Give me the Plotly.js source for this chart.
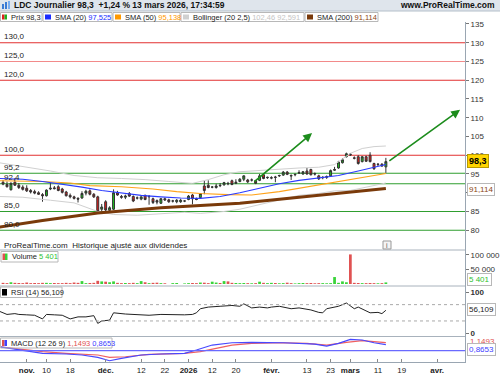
<!DOCTYPE html>
<html><head><meta charset="utf-8">
<script src="https://cdn.plot.ly/plotly-3.0.1.min.js"></script>
<style>html,body{margin:0;padding:0;background:#fff}#chart{width:500px;height:375px}</style>
</head><body><div id="chart"></div>
<script>
// ================= DATA =================
const startDate = '2025-10-24';
const holidays = ['2025-12-25','2025-12-26','2026-01-01','2026-04-03','2026-04-06'];

const open  = [92.8,92.2,90.8,92.8,92.0,91.5,91.2,90.6,90.3,90.0,89.5,89.2,91.0,91.3,91.6,91.0,90.2,89.3,88.9,88.5,
  88.6,89.9,90.5,89.6,88.9,85.6,87.6,85.3,85.6,90.1,89.0,88.8,89.8,89.0,88.6,88.3,89.3,88.9,88.4,87.9,
  87.2,88.4,88.1,87.8,87.6,87.6,87.8,88.2,89.4,88.4,88.7,91.8,92.0,91.5,91.4,92.0,92.1,92.5,93.2,92.5,
  93.0,93.6,93.4,93.4,93.2,93.3,94.8,94.0,93.9,94.2,94.5,94.7,95.5,94.6,94.8,95.2,95.0,95.8,96.2,95.1,
  94.5,94.0,94.1,94.5,96.0,96.6,98.0,99.6,100.3,99.3,99.6,98.3,99.6,100.0,97.8,97.5,97.6,96.9];
const high  = [93.4,93.0,92.8,93.9,92.6,92.0,92.0,91.0,90.8,90.4,89.9,90.9,92.7,91.8,92.0,91.3,90.5,89.8,89.2,88.8,
  90.4,90.8,90.9,89.9,89.2,87.0,88.0,86.4,90.9,90.5,89.4,89.5,90.2,89.3,89.0,89.0,89.5,89.4,88.7,88.2,
  88.6,88.7,88.4,88.1,88.3,88.4,88.0,89.4,89.7,88.7,89.9,93.2,93.3,91.8,92.4,92.6,92.9,92.9,93.5,93.6,
  93.9,94.6,93.7,93.8,93.4,95.0,95.2,94.3,94.4,94.5,94.8,95.8,95.8,94.9,95.1,96.0,95.8,96.6,96.4,95.4,
  94.8,94.4,94.6,96.2,96.9,98.5,99.2,100.7,100.6,99.7,100.0,99.8,99.9,100.8,98.0,97.9,97.9,99.3];
const low   = [92.0,91.4,90.6,91.8,91.0,90.6,90.2,89.8,89.6,89.4,87.6,89.0,90.7,90.9,90.4,89.8,89.0,88.5,88.2,87.4,
  88.4,89.3,89.3,88.6,84.6,84.6,84.8,84.8,85.4,89.2,88.4,88.3,88.9,87.5,88.2,88.0,88.0,86.8,87.0,86.9,
  87.0,87.8,87.3,87.4,87.2,87.3,87.5,88.0,86.9,88.0,88.4,89.6,91.2,91.2,91.1,91.5,91.9,92.0,92.0,92.3,
  92.8,93.1,92.6,93.0,92.3,93.1,93.6,93.7,93.6,92.8,94.2,94.5,94.7,93.4,94.4,95.0,94.8,94.8,94.6,94.6,
  93.4,93.6,93.7,94.4,95.8,96.4,97.8,99.4,99.8,98.9,97.5,98.1,98.2,98.1,96.1,97.1,97.0,95.3];
const close = [92.3,91.6,92.5,92.0,91.4,90.9,90.5,90.2,89.9,89.6,89.2,90.7,91.2,91.1,90.6,90.1,89.2,88.9,88.5,88.3,
  89.8,90.4,89.6,88.9,85.0,86.2,85.4,86.0,90.0,89.4,88.8,89.1,89.1,87.8,88.6,88.9,88.2,89.0,87.4,87.5,
  88.4,88.1,87.6,87.8,88.0,88.0,87.8,89.1,88.4,88.2,89.8,90.6,91.4,91.5,91.8,91.9,92.7,92.4,92.2,92.8,
  93.6,94.5,92.9,93.4,92.5,94.5,93.8,94.1,94.0,94.1,94.6,95.5,94.9,94.5,94.9,95.4,95.6,95.0,94.8,95.0,
  93.7,94.1,94.3,95.9,96.2,98.2,98.8,100.4,100.1,99.2,97.8,99.6,98.4,98.3,96.4,97.6,97.1,98.3];
const volume = [4000,3000,6000,4000,3500,3000,5000,3000,3500,3000,4000,4000,3000,3500,3000,3000,4000,3000,5000,4000,
  10000,3000,3500,4000,11000,9000,8000,6000,9000,4000,3000,3500,3000,4000,3000,10000,6000,3000,4000,4500,
  3000,2500,0,3000,3500,0,2000,3000,3500,3000,5000,4500,3000,8000,5000,3500,10000,9000,4000,3500,
  3000,3500,3000,2500,3000,8000,4000,3000,4000,3500,2500,3000,4500,3000,2000,3000,3500,3000,3500,2500,
  3000,3000,2500,3000,24000,4000,9000,6000,102000,4000,3500,3000,3000,3500,3000,2500,3000,5401];

// indicator readings (trading-day index from startDate, value)
const sma20X = [-1,5,10,15,20,25,30,35,40,45,50,55,60,65,70,75,80,85,90,94,97];
const sma20  = [93.8,93.6,93.0,92.3,91.5,90.6,89.9,89.3,88.9,88.6,88.5,89.0,90.0,91.2,92.4,93.3,94.0,94.6,95.8,96.8,97.525];
const sma50X = [-1,10,17,22,30,38,44,50,57,63,70,77,85,91,97];
const sma50  = [93.2,93.0,92.6,91.9,91.6,91.0,90.3,89.8,89.5,89.4,90.3,91.6,93.1,94.2,95.138];
const sma200X = [-1,10,24,40,60,80,97];
const sma200  = [80.8,82.6,84.6,86.0,87.2,89.3,91.114];
const bbUpX = [-1,5,12,18,24,30,36,42,48,52,56,60,65,70,75,80,84,88,91,94,97];
const bbUp  = [98.0,97.0,95.8,94.6,94.0,93.8,93.5,93.0,92.5,93.5,94.8,95.6,96.0,96.3,96.6,96.8,97.5,100.5,101.8,102.3,102.46];
const bbLoX = [-1,5,12,18,24,28,34,40,46,50,56,60,65,70,75,80,84,88,91,94,97];
const bbLo  = [89.0,88.8,88.0,87.3,85.0,84.2,84.0,84.3,84.8,84.5,85.0,85.6,86.8,88.0,89.3,89.8,90.5,90.6,91.2,92.0,92.591];
const rsiX = [-1,1,3,4,6,8,10,11,13,15,17,19,21,23,24,25,27,28,31,35,37,40,43,46,48,49,50,52,55,58,60,61,63,65,67,68,70,73,75,78,80,81,82,85,87,89,90,92,93,95,96,97];
const rsi  = [54,46,48,46,45,44,35,46,45,44,35,40,40,43,24,30,32,50,47,46,44,46,45,45,46,50,60,64,66,68,66,72,62,64,62,64,66,60,62,57,51,50,60,66,74,60,64,54,50,51,48,56.109];
const macdX = [-1,4,10,16,20,24,27,30,35,40,46,49,53,58,63,71,75,79,82,85,88,91,94,97];
const macd  = [0.57,0.1,-0.37,-0.47,-0.61,-0.95,-1.43,-1.09,-0.61,-0.47,-0.37,0.1,0.81,1.14,1.19,1.14,1.05,0.95,0.67,1.05,1.62,1.53,1.14,0.8653];
const sigX  = [-1,4,10,16,24,27,31,37,46,50,54,58,63,71,77,82,87,91,97];
const sig   = [0.57,0.2,-0.14,-0.37,-0.61,-0.95,-0.86,-0.52,-0.37,-0.14,0.33,0.81,1.05,1.14,1.05,0.81,1.19,1.43,1.1493];

const tickDates = ['2025-11-03','2025-11-10','2025-11-18','2025-12-01','2025-12-12','2025-12-22','2026-01-02','2026-01-12','2026-01-20','2026-02-02','2026-02-13','2026-02-23','2026-03-02','2026-03-11','2026-03-19','2026-04-01'];
const tickText  = ['<b>nov.</b>','10','18','<b>déc.</b>','12','22','<b>2026</b>','12','20','<b>févr.</b>','13','23','<b>mars</b>','11','19','<b>avr.</b>'];
const priceTicks = [80,85,90,95,100,105,110,115,120,125,130,135];
const redLevels = [130,125,120,100];
const redLabels = ['130,0','125,0','120,0','100,0'];
const greenLevels = [95.2,92.4,85,80];
const greenLabels = ['95,2','92,4','85,0','80,0'];
// trend arrows: [tailIndex, tailPrice, headIndex, headPrice]
const arrows = [[63.3,92.6,78.3,105.9],[97.5,98.2,115.8,112.1]];

// ================= BUILD =================
function tradingDays(start, n){
  const out=[]; const d=new Date(start+'T12:00:00Z');
  while(out.length<n){
    const iso=d.toISOString().slice(0,10), wd=d.getUTCDay();
    if(wd!==0 && wd!==6 && !holidays.includes(iso)) out.push(iso);
    d.setUTCDate(d.getUTCDate()+1);
  }
  return out;
}
const days = tradingDays(startDate, 140);
const xi = close.map((_,j)=>j);
const tickVals = tickDates.map(d=>days.indexOf(d));

const W=465, TOP=22, BOT=362, H=BOT-TOP;
const px = x => x/W, py = y => (BOT-y)/H;
const FONT = 'Liberation Sans, Arial, sans-serif';
const GREEN='#1fbf1f', RED='#e51c1c';

const traces = [
  {x:bbUpX,y:bbUp,type:'scatter',mode:'lines',line:{color:'#d0d0d0',width:1},hoverinfo:'skip'},
  {x:bbLoX,y:bbLo,type:'scatter',mode:'lines',line:{color:'#d0d0d0',width:1},hoverinfo:'skip'},
  {x:sma200X,y:sma200,type:'scatter',mode:'lines',line:{color:'#7a3a0a',width:3},hoverinfo:'skip'},
  {x:sma50X,y:sma50,type:'scatter',mode:'lines',line:{color:'#ffa31a',width:1.2},hoverinfo:'skip'},
  {x:sma20X,y:sma20,type:'scatter',mode:'lines',line:{color:'#2b3cff',width:1.2},hoverinfo:'skip'},
  {x:xi,open:open,high:high,low:low,close:close,type:'candlestick',
   increasing:{line:{color:'#333',width:1},fillcolor:GREEN},
   decreasing:{line:{color:'#333',width:1},fillcolor:RED},hoverinfo:'skip'},
  {x:xi,y:volume,type:'bar',yaxis:'y2',
   marker:{color:close.map((c,j)=>c>=open[j]?'#3ad43a':'#e05252'),line:{width:0}},hoverinfo:'skip'},
  {x:rsiX,y:rsi,type:'scatter',mode:'lines',yaxis:'y3',line:{color:'#222',width:1},hoverinfo:'skip'},
  {x:sigX,y:sig,type:'scatter',mode:'lines',yaxis:'y4',line:{color:'#f06060',width:1.2},hoverinfo:'skip'},
  {x:macdX,y:macd,type:'scatter',mode:'lines',yaxis:'y4',line:{color:'#4848ff',width:1.2},hoverinfo:'skip'}
];

const axisCommon = {showgrid:false,zeroline:false,fixedrange:true,showline:true,linecolor:'#9aa6b2',
  side:'right',ticks:'outside',ticklen:3,tickcolor:'#777',tickfont:{family:FONT,size:8,color:'#333'}};

const shapes = [
  {type:'rect',xref:'paper',yref:'paper',x0:0,x1:500/W,y0:py(11),y1:py(0),fillcolor:'#dfe5ec',line:{width:0},layer:'below'},
  {type:'line',xref:'paper',yref:'paper',x0:0,x1:500/W,y0:py(11),y1:py(11),line:{color:'#b4bfca',width:1}},
  {type:'line',xref:'paper',yref:'paper',x0:0,x1:1,y0:py(250),y1:py(250),line:{color:'#a8b2bc',width:1}},
  {type:'line',xref:'paper',yref:'paper',x0:0,x1:1,y0:py(286),y1:py(286),line:{color:'#a8b2bc',width:1}},
  {type:'line',xref:'paper',yref:'paper',x0:0,x1:1,y0:py(336.5),y1:py(336.5),line:{color:'#a8b2bc',width:1}},
  {type:'line',xref:'paper',yref:'y3',x0:0,x1:1,y0:70,y1:70,line:{color:'#aaa',width:1,dash:'dot'}},
  {type:'line',xref:'paper',yref:'y3',x0:0,x1:1,y0:30,y1:30,line:{color:'#aaa',width:1,dash:'dot'}},
  {type:'line',xref:'paper',yref:'y4',x0:0,x1:1,y0:0,y1:0,line:{color:'#6a6aff',width:1.2}},
  {type:'rect',xref:'paper',yref:'paper',x0:px(383),x1:px(391),y0:py(249),y1:py(241),line:{color:'#999',width:1},fillcolor:'#f4f4f4'}
];
redLevels.forEach((v,j)=>shapes.push({type:'line',xref:'paper',yref:'y',x0:0,x1:1,y0:v,y1:v,
  line:{color:v===125?'#f28a8a':'#e23030',width:1.2},layer:'below'}));
greenLevels.forEach(v=>shapes.push({type:'line',xref:'paper',yref:'y',x0:0,x1:1,y0:v,y1:v,
  line:{color:'#2f9e2f',width:1.2},layer:'below'}));

const f8 = {family:FONT,size:8,color:'#222'};
const fL = {family:FONT,size:7.5,color:'#222'};
const ann = [];
function label(text,x,y,opts){ann.push(Object.assign({xref:'paper',yref:'paper',x:px(x),y:py(y),text:text,
  showarrow:false,xanchor:'left',yanchor:'middle',font:f8},opts||{}));}
function box(text,x,y,opts){label(text,x,y,Object.assign({bordercolor:'#b8b8b8',borderwidth:1,borderpad:1,bgcolor:'#fff'},opts||{}));}
function rect(x0,x1,y0,y1,fill,line){shapes.push({type:'rect',xref:'paper',yref:'paper',x0:px(x0),x1:px(x1),y0:py(y1),y1:py(y0),
  fillcolor:fill,line:line?{color:line,width:1}:{width:0}});}
// legend box: frame, icons [[x0,x1,color]], text starting at tx
function legend(x0,x1,y0,y1,icons,text,tx){
  rect(x0,x1,y0,y1,'rgba(0,0,0,0)','#b8b8b8');
  icons.forEach(ic=>rect(ic[0],ic[1],y0+2,y1-2,ic[2]));
  label(text,tx,(y0+y1)/2,{font:fL});
}

label('<b>LDC Journalier 98,3  +1,24 % 13 mars 2026, 17:34:59</b>',12,5.5,{font:{family:FONT,size:8.5,color:'#111'}});
rect(2,4,4,9,'#3a7bd5'); rect(5,7,2,9,'#3a7bd5'); rect(8,10,1,9,'#7aaef0');
label('<b>www.ProRealTime.com</b>',497,5.5,{xanchor:'right',font:{family:FONT,size:8.5,color:'#111'}});

legend(0.5,42,12.5,21.5,[[2,4.5,'#e02020'],[4.5,7,'#20b020']],'Prix 98,3',8.5);
legend(43,112,12.5,21.5,[[45,51,'#1a2cff']],'SMA (20) <span style="color:#2030ff">97,525</span>',52.5);
legend(113,180,12.5,21.5,[[115,121,'#ff9900']],'SMA (50) <span style="color:#ff9900">95,138</span>',122.5);
legend(181,304,12.5,21.5,[[183,189,'#d0d0d0']],'Bollinger (20 2,5) <span style="color:#c4c4c4">102,46 92,591</span>',190.5);
legend(305,378,12.5,21.5,[[307,313,'#7a3a0a']],'SMA (200) <span style="color:#8b4513">91,114</span>',314.5);

redLevels.forEach((v,j)=>ann.push({xref:'paper',yref:'y',x:px(2),y:v,yshift:6,text:redLabels[j],showarrow:false,xanchor:'left',yanchor:'middle',font:f8}));
greenLevels.forEach((v,j)=>ann.push({xref:'paper',yref:'y',x:px(2),y:v,yshift:6,text:greenLabels[j],showarrow:false,xanchor:'left',yanchor:'middle',font:f8}));

label('ProRealTime.com  Historique ajusté aux dividendes',2,245.5);
label('i',387,245,{xanchor:'center',font:{family:FONT,size:7,color:'#555'}});

box('<b>98,3</b>',467,161,{bgcolor:'#ffd500',bordercolor:'#b89a00',font:{family:FONT,size:9,color:'#000'}});
box('91,114',467,189.5,{font:{family:FONT,size:8,color:'#8b4513'}});

legend(1,58,251.5,262,[[2.5,5,'#e05252'],[5,7.5,'#3ad43a']],'Volume <span style="color:#2fbf2f">5 401</span>',9.5);
box('<span style="color:#2fbf2f">5 401</span>',467,279.5);
legend(0.5,62,287,297.5,[[2,7,'#000']],'RSI (14) 56,109',9);
box('56,109',467,309.5);
legend(0.5,112,338,348,[[2,4.5,'#e05050'],[4.5,7,'#4040ff']],'MACD (12 26 9) <span style="color:#e05050">1,1493</span> <span style="color:#4040ff">0,8653</span>',9);
label('<span style="color:#e05050">1,1493</span>',468,341.5);
box('<span style="color:#4040ff">0,8653</span>',467,349.5);

arrows.forEach(a=>ann.push({xref:'x',yref:'y',axref:'x',ayref:'y',ax:a[0],ay:a[1],x:a[2],y:a[3],text:'',
  showarrow:true,arrowhead:2,arrowsize:1.1,arrowwidth:1.6,arrowcolor:'#1c8c1c',standoff:0,startstandoff:0}));

const layout = {
  width:500,height:375,margin:{l:0,r:35,t:TOP,b:375-BOT},
  paper_bgcolor:'#fff',plot_bgcolor:'#fff',showlegend:false,bargap:0.3,
  font:{family:FONT,size:8,color:'#222'},
  xaxis:{range:[-0.77,117.05],anchor:'y4',tickvals:tickVals,ticktext:tickText,ticks:'inside',ticklen:3,
    tickcolor:'#888',showgrid:false,zeroline:false,showline:true,linecolor:'#9aa6b2',fixedrange:true,
    rangeslider:{visible:false},tickfont:{family:FONT,size:8,color:'#222'}},
  yaxis:Object.assign({},axisCommon,{domain:[py(250),1],range:[74.73,135.53],tickvals:priceTicks}),
  yaxis2:Object.assign({},axisCommon,{domain:[py(286),py(250)],range:[-6900,117200],tickvals:[50000,100000],ticktext:['50 000','100 000']}),
  yaxis3:Object.assign({},axisCommon,{domain:[py(336.5),py(286)],range:[-8.1,115.7],tickvals:[0,100],ticktext:['<b>0</b>','<b>100</b>']}),
  yaxis4:Object.assign({},axisCommon,{domain:[0,py(336.5)],range:[-1.61,2.03],tickvals:[]}),
  shapes:shapes,annotations:ann
};
Plotly.newPlot('chart',traces,layout,{staticPlot:true,displayModeBar:false});
</script></body></html>
